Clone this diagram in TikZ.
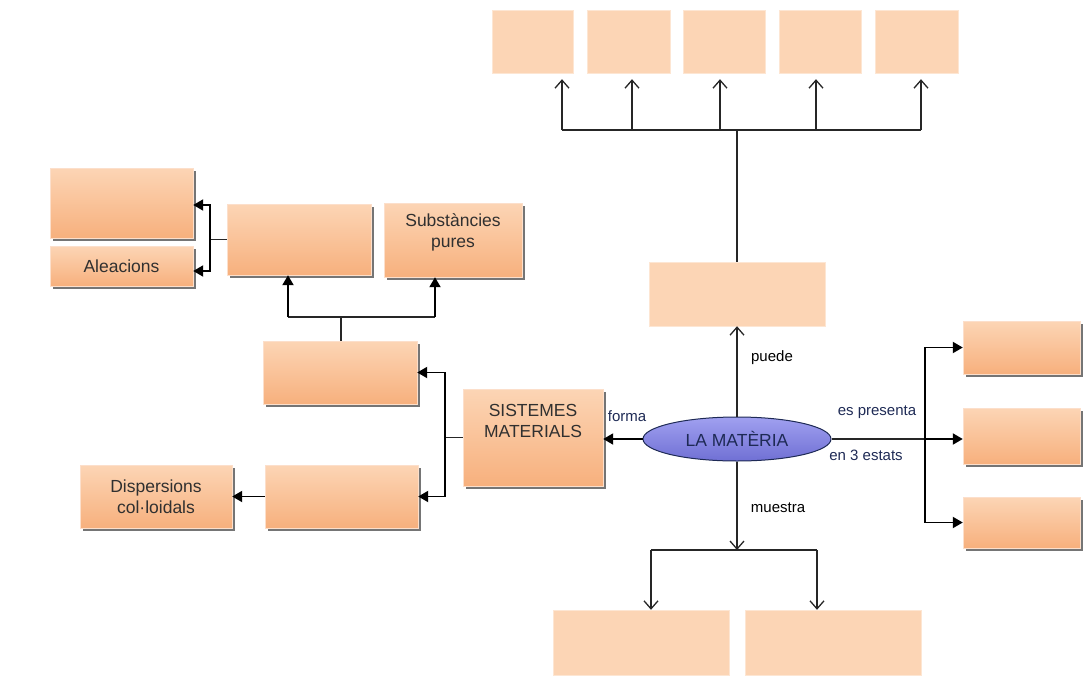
\documentclass[tikz,border=0pt]{standalone}
\usepackage{fontspec}
\setmainfont{Liberation Sans}
\usetikzlibrary{arrows.meta}
\usetikzlibrary{shadows}
\usetikzlibrary{shapes.geometric}
\definecolor{peach}{HTML}{F7B07D}
\definecolor{peachlt}{HTML}{FCD5B5}
\definecolor{lila}{HTML}{7070D4}
\definecolor{lilalt}{HTML}{A0A0F0}
\definecolor{txtgray}{HTML}{303030}
\definecolor{lblblue}{HTML}{1E2A55}

\begin{document}
\begin{tikzpicture}[x=1pt,y=-1pt,
    gbox/.style={rectangle,inner sep=0pt,top color=peachlt,bottom color=peach,draw=peach!40,
        drop shadow={shadow xshift=2.5pt,shadow yshift=-2.5pt,fill=black!60,opacity=.9},
        align=center,text=txtgray,font=\fontsize{17.5}{21}\selectfont},
    lbox/.style={rectangle,inner sep=0pt,fill=peachlt,draw=peachlt!60},
    lbl/.style={font=\fontsize{15}{17}\selectfont,text=lblblue},
    wire/.style={line width=1.3pt,black!85},
    fat/.style={line width=1.9pt,black,-{Triangle[length=10pt,width=11pt]}},
    thin/.style={line width=1.3pt,black!85,-{Straight Barb[length=8pt,width=14pt,line width=1.3pt]}}]
        \useasboundingbox (0,0) rectangle (1090,675);
        \foreach \n/\x/\w in {t1/532.5/81,t2/628.5/83,t3/724/82,t4/820/82,t5/916.5/83}{
            \node[lbox,minimum width=\w,minimum height=63] (\n) at (\x,41.5) {};
        }
        \node[lbox,minimum width=176,minimum height=64] (pot) at (737,294) {};
        \node[ellipse,draw=lblblue,line width=1pt,top color=lilalt,bottom color=lila,minimum width=188,minimum height=44,
            inner sep=0pt,text=lblblue,font=\fontsize{17.5}{20}\selectfont] (mat) at (737,439) {LA MATÈRIA};
        \node[lbox,minimum width=176,minimum height=65] (b1) at (641,642.5) {};
        \node[lbox,minimum width=176,minimum height=65] (b2) at (833,642.5) {};
        \node[gbox,minimum width=117,minimum height=53] (r1) at (1021.5,347.5) {};
        \node[gbox,minimum width=117,minimum height=56] (r2) at (1021.5,436) {};
        \node[gbox,minimum width=117,minimum height=51] (r3) at (1021.5,522.5) {};
        \node[gbox,minimum width=140,minimum height=97] (sis) at (533,437.5) {SISTEMES\\MATERIALS\\[12pt]};
        \node[gbox,minimum width=154,minimum height=63] (m1) at (340,372.5) {};
        \node[gbox,minimum width=153,minimum height=63] (m2) at (341.5,496.5) {};
        \node[gbox,minimum width=152,minimum height=63] (disp) at (156,496.5) {Dispersions\\col·loidals};
        \node[gbox,minimum width=144,minimum height=71] (h) at (299,239.5) {};
        \node[gbox,minimum width=138,minimum height=74] (subs) at (453,240) {Substàncies\\pures\\[-2pt]};
        \node[gbox,minimum width=143,minimum height=70] (a1) at (121.5,203) {};
        \node[gbox,minimum width=143,minimum height=40] (alea) at (121.5,266) {Aleacions};

        \coordinate (topbar) at (737,130);
        \coordinate (mj) at (737,550);
        \coordinate (rj) at (925,439);
        \coordinate (sj) at (445,437.5);
        \coordinate (hj) at (341,317);
        \coordinate (aj) at (210,239.5);

        \draw[wire] (pot.north) -- (topbar);
        \draw[wire] (562,130) -- (921,130);
        \foreach \x/\n in {562/t1,632/t2,720/t3,816/t4,921/t5}{
            \draw[thin,shorten >=6pt] (\x,130) -- (\x,130 |- \n.south);
        }
        \draw[thin] (mat.north) -- (pot.south);
        \draw[thin] (mat.south) -- (mj);
        \draw[wire] (651,550) -- (817,550);
        \draw[thin] (651,550) -- (651,550 |- b1.north);
        \draw[thin] (817,550) -- (817,550 |- b2.north);

        \draw[fat] (mat.west) -- (mat.west -| sis.east);
        \draw[wire] (mat.east) -- (rj);
        \draw[fat] (rj) |- (r1.west);
        \draw[fat] (rj) -- (rj -| r2.west);
        \draw[fat] (rj) |- (r3.west);

        \draw[wire] (sis.west) -- (sj);
        \draw[fat] (sj) |- (m1.east);
        \draw[fat] (sj) |- (m2.east);
        \draw[fat] (m2.west) -- (disp.east);

        \draw[wire] (m1.north -| hj) -- (hj);
        \draw[wire] (288,317) -- (435,317);
        \draw[fat] (288,317) -- (288,317 |- h.south);
        \draw[fat] (435,317) -- (435,317 |- subs.south);

        \draw[wire] (h.west) -- (aj);
        \draw[fat] (aj) |- ([yshift=-2pt]a1.east);
        \draw[fat] (aj) |- ([yshift=-5pt]alea.east);

        \node[lbl,text=black] (puede) at (772,358) {puede};
        \node[lbl,text=black] (muestra) at (778,508) {muestra};
        \node[lbl] (forma) at (627,416) {forma};
        \node[lbl] (espres) at (877,412) {es presenta};
        \node[lbl] (estats) at (866,455) {en 3 estats};
    \end{tikzpicture}
\end{document}
